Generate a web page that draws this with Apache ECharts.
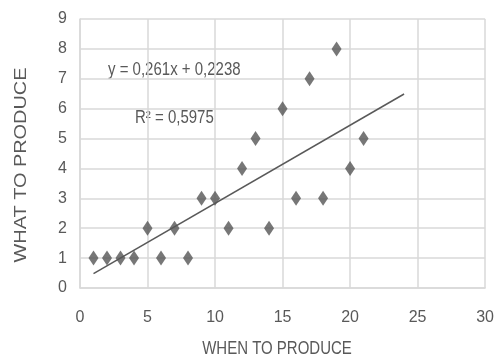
<!DOCTYPE html>
<html>
<head>
<meta charset="utf-8">
<script src="https://cdn.jsdelivr.net/npm/echarts@6/dist/echarts.min.js"></script>
<style>
html,body{margin:0;padding:0;background:#fff;}
#chart{width:497px;height:360px;}
</style>
</head>
<body>
<div id="chart"></div>
<script>
var xValues = [1,2,3,4,5,6,7,8,9,10,11,12,13,14,15,16,17,18,19,20,21];
var yValues = [1,1,1,1,2,1,2,1,3,3,2,4,5,2,6,3,7,3,8,4,5];
var trendX = [1, 24];
var trendY = [0.48, 6.49];
var xTicks = {min: 0, max: 30, interval: 5};
var yTicks = {min: 0, max: 9, interval: 1};
var equationText = 'y = 0,261x + 0,2238';
var r2Text = 'R² = 0,5975';
var xTitle = 'WHEN TO PRODUCE';
var yTitle = 'WHAT TO PRODUCE';

var TXT = '#595959';
var FONT = '"Liberation Sans", Arial, sans-serif';

var chart = echarts.init(document.getElementById('chart'), null, {renderer: 'canvas'});
var points = xValues.map(function (x, i) { return [x, yValues[i]]; });
var trend = trendX.map(function (x, i) { return [x, trendY[i]]; });

chart.setOption({
  animation: false,
  backgroundColor: '#fff',
  grid: {left: 80, right: 8, top: 19, bottom: 72, containLabel: false},
  xAxis: {
    type: 'value', min: xTicks.min, max: xTicks.max, interval: xTicks.interval,
    axisLine: {show: true, lineStyle: {color: '#d9d9d9', width: 1.5}},
    axisTick: {show: false},
    splitLine: {show: true, lineStyle: {color: '#d9d9d9', width: 1.5}},
    axisLabel: {color: TXT, fontFamily: FONT, fontSize: 16, margin: 22}
  },
  yAxis: {
    type: 'value', min: yTicks.min, max: yTicks.max, interval: yTicks.interval,
    axisLine: {show: true, lineStyle: {color: '#d9d9d9', width: 1.5}},
    axisTick: {show: false},
    splitLine: {show: true, lineStyle: {color: '#d9d9d9', width: 1.5}},
    axisLabel: {color: TXT, fontFamily: FONT, fontSize: 16, margin: 13}
  },
  series: [
    {
      type: 'line', data: trend, symbol: 'none', silent: true,
      lineStyle: {color: '#595959', width: 1.5}, z: 2
    },
    {
      type: 'scatter', data: points, symbol: 'diamond', symbolSize: [10, 15],
      itemStyle: {color: '#555555'}, z: 3
    }
  ],
  graphic: [
    {type: 'text', x: 108, y: 70, scaleY: 1.2,
     style: {text: equationText, fill: TXT, font: '15px ' + FONT, align: 'left', verticalAlign: 'middle'}},
    {type: 'text', x: 135, y: 118, scaleY: 1.2,
     style: {text: r2Text, fill: TXT, font: '15px ' + FONT, align: 'left', verticalAlign: 'middle'}},
    {type: 'text', x: 277, y: 349, scaleY: 1.2,
     style: {text: xTitle, fill: TXT, font: '15px ' + FONT, align: 'center', verticalAlign: 'middle'}},
    {type: 'text', x: 21, y: 165, rotation: Math.PI / 2, scaleX: 1.17,
     style: {text: yTitle, fill: TXT, font: '17px ' + FONT, align: 'center', verticalAlign: 'middle'}}
  ]
});
</script>
</body>
</html>
